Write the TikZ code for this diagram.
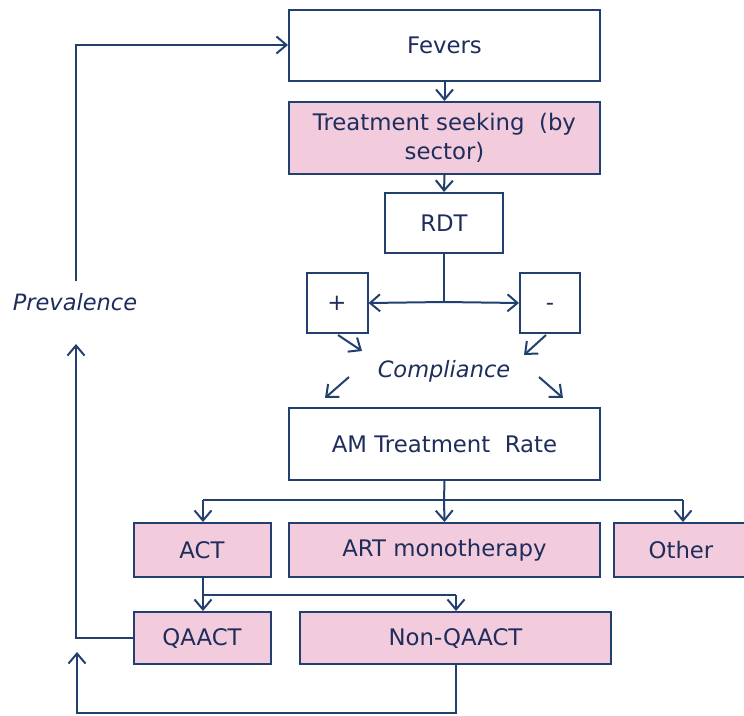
\documentclass[tikz,border=0pt]{standalone}
\usepackage{fontspec}
\setmainfont{DejaVu Sans}
\usetikzlibrary{arrows.meta}
\definecolor{navy}{HTML}{22406F}
\definecolor{txt}{HTML}{1F2D5C}
\definecolor{pinkfill}{HTML}{F2CCDC}
\tikzset{
  box/.style={draw=navy, line width=2pt, rectangle, inner sep=0pt, align=center,
    text=txt, font=\fontsize{22.8}{29}\selectfont},
  wbox/.style={box, fill=white},
  pbox/.style={box, fill=pinkfill},
  conn/.style={draw=navy, line width=2pt},
  arr/.style={conn, -{Straight Barb[length=10pt,width=17pt]}},
  lbl/.style={text=txt, font=\fontsize{22.5}{26}\selectfont\itshape, inner sep=0pt}
}
\begin{document}
\begin{tikzpicture}[x=1pt,y=-1pt]
\useasboundingbox (0,0) rectangle (744,715);
% boxes
\node[wbox, minimum width=311pt, minimum height=71pt] (fev) at (444.5,45) {Fevers};
\node[pbox, minimum width=311pt, minimum height=72pt] (ts) at (444.5,138) {Treatment seeking \ (by\\sector)};
\node[wbox, minimum width=118pt, minimum height=60pt] (rdt) at (444,223) {RDT};
\node[wbox, minimum width=61pt, minimum height=60pt] (plus) at (337,303) {+};
\node[wbox, minimum width=60pt, minimum height=60pt] (minus) at (550,303) {\vphantom{+}-};
\node[lbl] (comp) at (444,371) {Compliance};
\node[wbox, minimum width=311pt, minimum height=72pt] (am) at (444.5,444) {AM Treatment \ Rate};
\node[pbox, minimum width=137pt, minimum height=54pt] (act) at (202,550) {ACT};
\node[pbox, minimum width=311pt, minimum height=54pt] (art) at (444.5,550) {ART monotherapy};
\node[pbox, minimum width=134pt, minimum height=54pt] (oth) at (681,550) {Other};
\node[pbox, minimum width=137pt, minimum height=52pt] (qa) at (202,638) {QAACT};
\node[pbox, minimum width=311pt, minimum height=52pt] (nq) at (455.5,638) {Non-QAACT};
\node[lbl] (prev) at (75,302) {Prevalence};
% coordinates
\coordinate (pt) at (76,281);
\coordinate (pb) at (76,344);
\coordinate (lb) at (77,713);
\coordinate (la) at (77,652);
\coordinate (rj) at (444,302);
\coordinate (aj) at (444,500);
\coordinate (ajl) at (203,500);
\coordinate (ajr) at (683,500);
\coordinate (cj) at (203,595);
\coordinate (cjr) at (456,595);
% connectors
\draw[arr] (fev.south) -- (ts.north);
\draw[arr] (ts.south) -- (rdt.north);
\draw[conn] (rdt.south) -- (rj);
\draw[arr] (rj) -- (plus.east);
\draw[arr] (rj) -- (minus.west);
\coordinate (c1a) at (338,335); \coordinate (c1b) at (362,351);
\coordinate (c2a) at (546,335); \coordinate (c2b) at (524,355);
\coordinate (c3a) at (349,377); \coordinate (c3b) at (325,398);
\coordinate (c4a) at (539,377); \coordinate (c4b) at (563,398);
\draw[arr] (c1a) -- (c1b);
\draw[arr] (c2a) -- (c2b);
\draw[arr] (c3a) -- (c3b);
\draw[arr] (c4a) -- (c4b);
\draw[conn] (am.south) -- (aj);
\draw[conn] (ajl) -- (ajr);
\draw[arr] (ajl) -- (ajl |- act.north);
\draw[arr] (aj) -- (art.north);
\draw[arr] (ajr) -- (ajr |- oth.north);
\draw[conn] (act.south -| cj) -- (cj) -- (cjr);
\draw[arr] (cj) -- (cj |- qa.north);
\draw[arr] (cjr) -- (cjr |- nq.north);
\draw[arr] (pt) |- (fev.west);
\draw[arr] (qa.west) -| (pb);
\draw[arr] (nq.south -| cjr) -- (cjr |- lb) -- (lb) -- (la);
\end{tikzpicture}
\end{document}
